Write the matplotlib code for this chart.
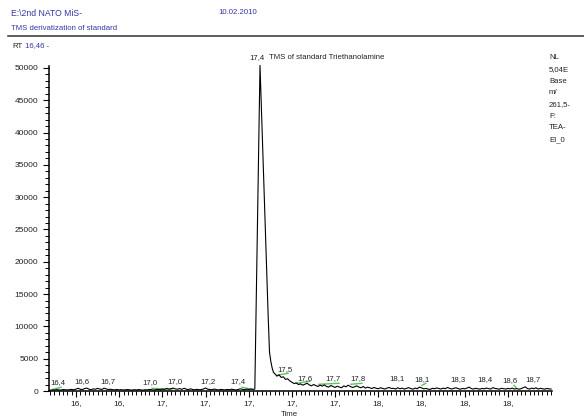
import numpy as np
import matplotlib
matplotlib.use("Agg")
import matplotlib.pyplot as plt
from matplotlib.ticker import MultipleLocator, FixedLocator, FuncFormatter
from matplotlib.lines import Line2D

plt.rcParams['font.family'] = ['Liberation Sans', 'DejaVu Sans']

BLUE = '#3535a8'
GREEN = '#5cc45c'

# ---- chromatogram (retention time in min, intensity in counts) ----
rt_pre = np.round(np.arange(16.48, 17.425, 0.01), 2)
int_pre = [
    120, 180, 150, 210, 170, 140, 230, 190, 160, 200,
    250, 180, 300, 420, 260, 220, 380, 450, 280, 200,
    330, 260, 410, 300, 240, 440, 310, 230, 270, 200,
    180, 240, 160, 210, 150, 190, 230, 170, 140, 200,
    160, 220, 180, 130, 200, 170, 240, 190, 150, 210,
    260, 180, 300, 230, 410, 280, 350, 450, 320, 270,
    380, 250, 420, 290, 200, 340, 230, 180, 260, 190,
    220, 310, 470, 280, 240, 190, 300, 220, 160, 250,
    200, 170, 240, 190, 280, 210, 150, 230, 330, 260,
    200, 280, 230, 310, 250,
]

rt_peak = [17.428, 17.452, 17.462, 17.472, 17.482, 17.490, 17.496, 17.502, 17.508, 17.514]
int_peak = [300, 50400, 40000, 29800, 19600, 11400, 6000, 4600, 3600, 2900]

rt_post = np.round(np.arange(17.52, 18.805, 0.01), 2)
int_post = [
    2700, 2300, 2500, 2100, 2200, 1800, 1900, 1550,
    1350, 1150, 1250, 1000, 1100, 900, 1050, 1200, 950, 800,
    1000, 850, 700, 900, 750, 950, 700, 600, 850, 700,
    550, 750, 600, 500, 800, 650, 900, 700, 550, 650,
    800, 600, 500, 700, 450, 600, 500, 380, 550, 420,
    350, 500, 400, 300, 450, 550, 380, 420, 300, 500,
    350, 450, 300, 400, 520, 380, 280, 450, 350, 600,
    480, 330, 400, 300, 250, 420, 350, 480, 380, 300,
    450, 350, 550, 400, 300, 420, 500, 350, 280, 400,
    330, 450, 600, 380, 300, 420, 350, 280, 400, 330,
    450, 380, 300, 520, 400, 350, 280, 420, 350, 300,
    400, 330, 450, 300, 380, 280, 350, 500, 650, 380,
    300, 450, 350, 500, 300, 420, 350, 280, 400, 330,
    300,
]

rt = np.concatenate([rt_pre, rt_peak, rt_post])
intensity = np.concatenate([int_pre, int_peak, int_post])

# ---- peak labels (text, rt, intensity) ----
peak_text = ["16,4", "16,6", "16,7", "17,0", "17,0", "17,2", "17,4", "17,5", "17,6",
             "17,7", "17,8", "18,1", "18,1", "18,3", "18,4", "18,6", "18,7"]
peak_rt = [16.517, 16.628, 16.748, 16.943, 17.058, 17.211, 17.350, 17.568, 17.660,
           17.790, 17.906, 18.086, 18.202, 18.369, 18.494, 18.609, 18.716]
peak_level = [1350, 1500, 1500, 1350, 1500, 1500, 1500, 3360, 1970,
              1970, 1970, 1970, 1810, 1810, 1810, 1650, 1810]

# ---- integration baselines (rt start, rt end, level start, level end) ----
base_rt0 = [16.494, 16.952, 17.369, 17.531, 17.619, 17.725, 17.873, 18.202, 18.628]
base_rt1 = [16.531, 17.044, 17.415, 17.582, 17.683, 17.818, 17.924, 18.220, 18.637]
base_y0 = [264, 419, 574, 2434, 1194, 1039, 1039, 884, 884]
base_y1 = [574, 264, 264, 2744, 1504, 1194, 1194, 1194, 574]

main_rt = 17.436
main_rt_label = "17,4"
main_name = "TMS of standard Triethanolamine"

x_ticks = [16.6, 16.8, 17.0, 17.2, 17.4, 17.6, 17.8, 18.0, 18.2, 18.4, 18.6]
y_ticks = list(range(0, 50001, 5000))

info_lines = ["NL", "5,04E", "Base", "m/", "261,5-", "F:", "TEA-", "EI_0"]

W, H = 584, 417
fig = plt.figure(figsize=(W / 100, H / 100), dpi=100)
ax = fig.add_axes([49 / W, 1 - 391 / H, (552 - 49) / W, (391 - 66) / H])

ax.plot(rt, intensity, color='black', lw=0.8, clip_on=False, zorder=3)

for x0, x1, y0, y1 in zip(base_rt0, base_rt1, base_y0, base_y1):
    ax.plot([x0, x1], [y0, y1], color=GREEN, lw=1.0, zorder=2)

for t, x, y in zip(peak_text, peak_rt, peak_level):
    ax.text(x, y, t, ha='center', va='center', fontsize=5.6, color='#222222')

ax.text(main_rt, 51660, main_rt_label, ha='center', va='center', fontsize=5.6,
        color='#222222', clip_on=False)
ax.text(17.494, 51660, main_name, ha='left', va='center', fontsize=5.6,
        color='#222222', clip_on=False)

ax.set_xlim(16.475, 18.804)
ax.set_ylim(0, 50300)

for s in ('top', 'right'):
    ax.spines[s].set_visible(False)
for s in ('left', 'bottom'):
    ax.spines[s].set_linewidth(1.1)

ax.xaxis.set_major_locator(FixedLocator(x_ticks))
ax.xaxis.set_major_formatter(FuncFormatter(lambda v, p: f"{int(v + 1e-9)},"))
ax.xaxis.set_minor_locator(MultipleLocator(0.02))
ax.yaxis.set_major_locator(FixedLocator(y_ticks))
ax.yaxis.set_minor_locator(MultipleLocator(1000))
ax.yaxis.set_major_formatter(FuncFormatter(lambda v, p: f"{int(v)}"))

ax.tick_params(axis='both', which='major', length=4.5, width=0.8, labelsize=6,
               colors='black', labelcolor='#222222')
ax.tick_params(axis='both', which='minor', length=2.8, width=0.7)
ax.tick_params(axis='x', pad=2)
ax.tick_params(axis='y', pad=3)

# header
fig.text(11 / W, 1 - 13 / H, "E:\\2nd NATO MiS-", fontsize=6.2, color=BLUE, va='center')
fig.text(11 / W, 1 - 28 / H, "TMS derivatization of standard", fontsize=5.6, color=BLUE, va='center')
fig.text(218 / W, 1 - 13 / H, "10.02.2010", fontsize=5.6, color=BLUE, va='center')
fig.add_artist(Line2D([8 / W, 1.0], [1 - 36 / H, 1 - 36 / H], color='#333333', lw=1.1))
fig.text(12 / W, 1 - 46 / H, "RT", fontsize=5.6, color='#222222', va='center')
fig.text(25 / W, 1 - 46 / H, "16,46 -", fontsize=5.6, color=BLUE, va='center')

for i, s in enumerate(info_lines):
    fig.text(549 / W, 1 - (57.7 + 11.7 * i) / H, s, fontsize=5.6, color='#222222', va='center')

fig.text(289 / W, 1 - 414 / H, "Time", fontsize=5.6, color='#222222', ha='center', va='center')

fig.savefig("out.png", dpi=100)
